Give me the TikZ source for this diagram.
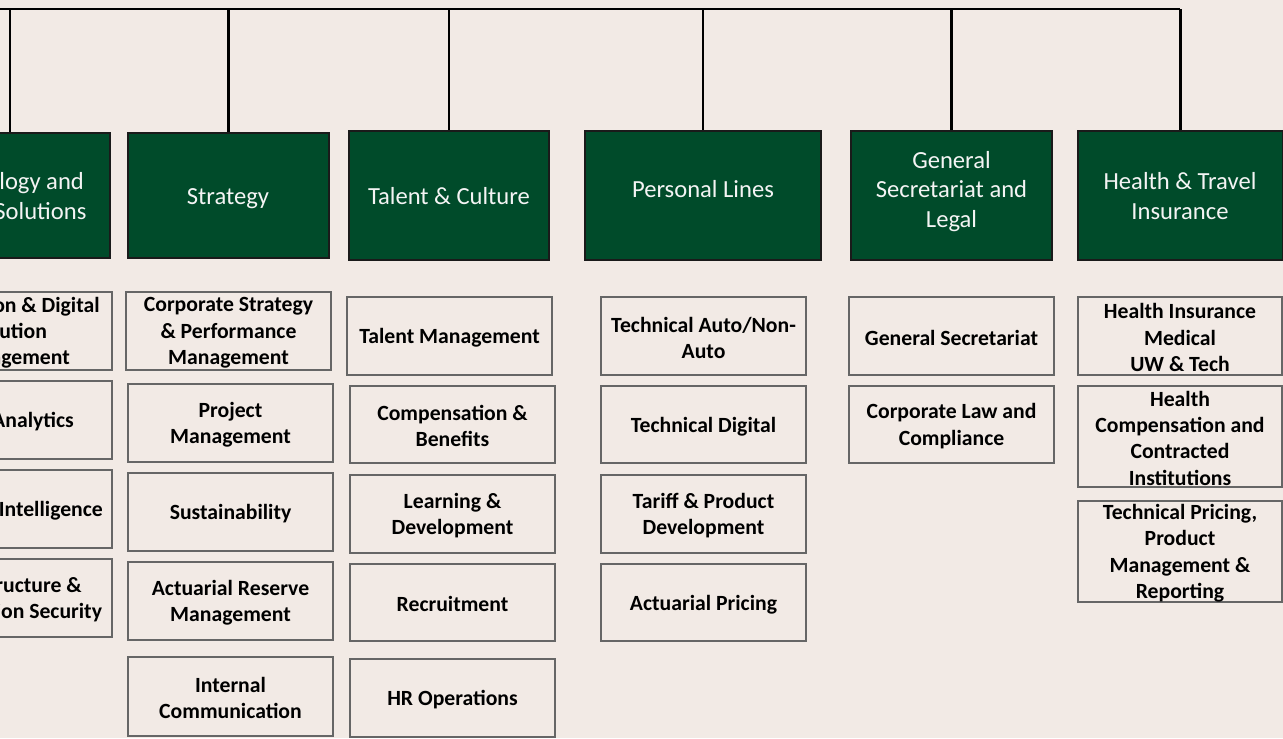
\documentclass[tikz,border=0pt]{standalone}
\usepackage{fontspec}
\setmainfont{Carlito}
\definecolor{pagebg}{HTML}{F2EAE5}
\definecolor{deptgreen}{HTML}{004B2A}
\definecolor{deptframe}{HTML}{1A1A1A}
\definecolor{unitframe}{HTML}{666666}
\definecolor{headtext}{HTML}{F4F4F4}
\begin{document}
\begin{tikzpicture}[x=0.02cm,y=-0.02cm,
  wh/.style 2 args={minimum width=#1*0.02cm, minimum height=#2*0.02cm},
  dept/.style={draw=deptframe, line width=0.6pt, fill=deptgreen, inner sep=0pt},
  depttext/.style={text=headtext, align=center, inner sep=0pt,
    font=\fontsize{14}{16.7}\selectfont},
  unit/.style={draw=unitframe, line width=0.7pt, inner sep=0pt},
  unittext/.style={align=center, inner sep=0pt, yshift=-1pt,
    font=\fontsize{12.35}{15}\selectfont\bfseries},
  unitlabel/.style={label={[unittext]center:{#1}}},
  bus/.style={draw=black, line width=1.25pt}]

% page
\fill[pagebg] (0,0) rectangle (1283,738);
\useasboundingbox (0,0) rectangle (1283,738);
\clip (0,0) rectangle (1283,738);

% department headers
\node[dept, wh={200}{125}] (tech) at (10,195.5) {};
\node[dept, wh={201}{125}] (strat) at (228.5,195.5) {};
\node[dept, wh={200}{129}] (talent) at (449,195.5) {};
\node[dept, wh={236}{129}] (personal) at (703,195.5) {};
\node[dept, wh={201}{129}] (gensec) at (951.5,195.5) {};
\node[dept, wh={205}{129}] (health) at (1180.5,195.5) {};

\node[depttext] (techT) at (6,198) {Technology and\\Digital Solutions};
\node[depttext] (stratT) at (228,199) {Strategy};
\node[depttext] (talentT) at (449,196) {Talent \& Culture};
\node[depttext] (personalT) at (703,189.5) {Personal Lines};
\node[depttext] (gensecT) at (951.5,191.5) {General\\Secretariat and\\Legal};
\node[depttext] (healthT) at (1180,196) {Health \& Travel\\Insurance};

% reporting lines
\coordinate (busL) at (-20,9);
\coordinate (busR) at (1180,9);
\draw[bus] (busL) -- (busR);
\foreach \d in {tech,strat,talent,personal,gensec,health}
  \draw[bus] (\d.north |- busR) -- (\d.north);

% Technology and Digital Solutions units
\node[unit, wh={205}{78}, unitlabel={Innovation \& Digital\\Solution\\Management}] (t1) at (9.5,331) {};
\node[unit, wh={205}{78}, unitlabel={Data Analytics}] (t2) at (9.5,420) {};
\node[unit, wh={205}{78}, unitlabel={Business Intelligence}] (t3) at (9.5,509) {};
\node[unit, wh={205}{78}, unitlabel={Infrastructure \&\\Information Security}] (t4) at (9.5,598) {};

% Strategy units
\node[unit, wh={205}{78}, unitlabel={Corporate Strategy\\\& Performance\\Management}] (s1) at (228.5,331) {};
\node[unit, wh={205}{78}, unitlabel={Project\\Management}] (s2) at (230.5,423) {};
\node[unit, wh={205}{78}, unitlabel={Sustainability}] (s3) at (230.5,512) {};
\node[unit, wh={205}{78}, unitlabel={Actuarial Reserve\\Management}] (s4) at (230.5,601) {};
\node[unit, wh={205}{79}, unitlabel={Internal\\Communication}] (s5) at (230.5,696.5) {};

% Talent & Culture units
\node[unit, wh={205}{78}, unitlabel={Talent Management}] (c1) at (449.5,336) {};
\node[unit, wh={205}{77}, unitlabel={Compensation \&\\Benefits}] (c2) at (452.5,424.5) {};
\node[unit, wh={205}{78}, unitlabel={Learning \&\\Development}] (c3) at (452.5,514) {};
\node[unit, wh={205}{77}, unitlabel={Recruitment}] (c4) at (452.5,602.5) {};
\node[unit, wh={205}{78}, unitlabel={HR Operations}] (c5) at (452.5,698) {};

% Personal Lines units
\node[unit, wh={205}{78}, unitlabel={Technical Auto/Non-\\Auto}] (p1) at (703.5,336) {};
\node[unit, wh={205}{77}, unitlabel={Technical Digital}] (p2) at (703.5,424.5) {};
\node[unit, wh={205}{78}, unitlabel={Tariff \& Product\\Development}] (p3) at (703.5,514) {};
\node[unit, wh={205}{77}, unitlabel={Actuarial Pricing}] (p4) at (703.5,602.5) {};

% General Secretariat and Legal units
\node[unit, wh={205}{78}, unitlabel={General Secretariat}] (g1) at (951.5,336) {};
\node[unit, wh={205}{77}, unitlabel={Corporate Law and\\Compliance}] (g2) at (951.5,424.5) {};

% Health & Travel Insurance units
\node[unit, wh={204}{78}, unitlabel={Health Insurance\\Medical\\UW \& Tech}] (h1) at (1180,336) {};
\node[unit, wh={204}{101}, unitlabel={Health\\Compensation and\\Contracted\\Institutions}] (h2) at (1180,436.5) {};
\node[unit, wh={204}{101}, unitlabel={Technical Pricing,\\Product\\Management \&\\Reporting}] (h3) at (1180,551.5) {};
\end{tikzpicture}
\end{document}
